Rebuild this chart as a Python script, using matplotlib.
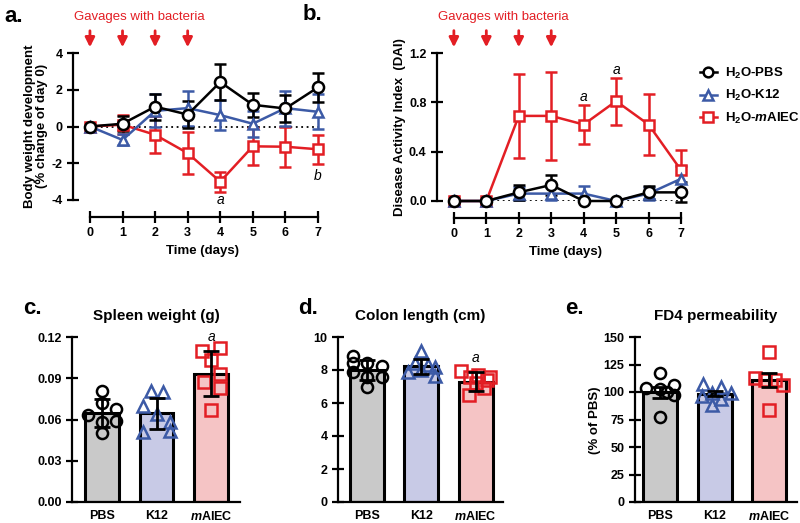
import numpy as np
import matplotlib.pyplot as plt
from matplotlib.lines import Line2D

plt.rcParams['font.family'] = ['Liberation Sans', 'DejaVu Sans']
plt.rcParams['font.weight'] = 'bold'
plt.rcParams['mathtext.fontset'] = 'custom'
plt.rcParams['mathtext.rm'] = 'Liberation Sans:bold'
plt.rcParams['mathtext.bf'] = 'Liberation Sans:bold'
plt.rcParams['mathtext.it'] = 'Liberation Sans:italic:bold'

# ---- data ----
days = [0, 1, 2, 3, 4, 5, 6, 7]

# a. body weight (% change of day 0)
bw_pbs = [0, 0.15, 1.08, 0.65, 2.42, 1.18, 0.98, 2.13]
bw_pbs_err = [0, 0.4, 0.7, 0.75, 1.0, 0.65, 0.75, 0.8]
bw_k12 = [0, -0.73, 0.85, 1.0, 0.62, 0.15, 1.0, 0.8]
bw_k12_err = [0, 0.3, 0.9, 0.95, 0.8, 0.7, 0.95, 0.95]
bw_aiec = [0, 0.1, -0.45, -1.45, -3.0, -1.08, -1.1, -1.24]
bw_aiec_err = [0, 0.5, 1.0, 1.15, 0.55, 1.0, 1.1, 0.8]

# b. disease activity index
dai_pbs = [0, 0, 0.07, 0.13, 0, 0, 0.07, 0.07]
dai_pbs_err = [0, 0, 0.06, 0.08, 0, 0, 0.05, 0.08]
dai_k12 = [0, 0, 0.06, 0.06, 0.06, 0, 0.06, 0.18]
dai_k12_err = [0, 0, 0.05, 0.05, 0.06, 0, 0.05, 0.1]
dai_aiec = [0, 0, 0.69, 0.69, 0.62, 0.81, 0.62, 0.25]
dai_aiec_err = [0, 0, 0.34, 0.36, 0.16, 0.19, 0.25, 0.16]

gavage_days = [0, 1, 2, 3]

groups = ['PBS', 'K12', r'$\mathit{m}$AIEC']
legend_labels = [r'H$_2$O-PBS', r'H$_2$O-K12', r'H$_2$O-$\mathit{m}$AIEC']

# c. spleen weight (g)
spleen_mean = [0.0647, 0.0645, 0.0933]
spleen_err = [0.010, 0.0113, 0.0163]
spleen_pts = [[0.081, 0.072, 0.068, 0.063, 0.059, 0.058, 0.050],
              [0.081, 0.080, 0.070, 0.064, 0.058, 0.051, 0.052],
              [0.110, 0.112, 0.103, 0.093, 0.087, 0.083, 0.067]]

# d. colon length (cm)
colon_mean = [7.98, 8.22, 7.3]
colon_err = [0.6, 0.45, 0.6]
colon_pts = [[8.85, 8.4, 8.4, 8.25, 7.9, 7.55, 7.6, 7.0],
             [9.15, 8.4, 8.3, 8.2, 7.85, 7.65, 8.0],
             [7.95, 7.7, 7.55, 7.55, 7.2, 6.9, 6.5, 7.4]]

# e. FD4 permeability (% of PBS)
fd4_mean = [100, 98.5, 111]
fd4_err = [5, 2.5, 6.5]
fd4_pts = [[117, 106, 104, 103, 100, 97, 77],
           [107, 105, 99, 99, 96, 94, 88],
           [136, 113, 111, 111, 106, 84]]

# horizontal spread of the dots inside each bar (layout only)
spleen_jit = [[0, 0, 0.25, -0.25, 0.25, 0, 0],
              [-0.11, 0.12, -0.25, 0, 0.25, -0.25, 0.25],
              [-0.16, 0.17, 0, 0.17, -0.13, 0.16, 0]]
colon_jit = [[-0.25, -0.25, 0, 0.27, -0.25, 0.27, 0, 0],
             [0, -0.12, 0.12, 0.25, -0.25, 0.25, 0],
             [-0.27, 0.05, -0.1, 0.27, 0, 0.15, -0.12, 0.2]]
fd4_jit = [[0, 0.25, -0.25, 0, 0.12, 0.25, 0],
           [-0.22, 0.12, -0.05, 0.3, -0.24, 0.12, -0.05],
           [0, -0.26, -0.08, 0.1, 0.26, 0]]

RED = '#e31e24'
BLUE = '#3c5aa6'
BLACK = 'black'
line_colors = [BLACK, BLUE, RED]
markers = ['o', '^', 's']
bar_fill = ['#c9c9c9', '#c8cae6', '#f5c4c5']

W, H = 800, 523
fig = plt.figure(figsize=(W / 100, H / 100), dpi=100)


def rect(l, t, r, b):
    return [l / W, 1 - b / H, (r - l) / W, (b - t) / H]


def style_axes(ax):
    for s in ['top', 'right']:
        ax.spines[s].set_visible(False)
    for s in ['left', 'bottom']:
        ax.spines[s].set_linewidth(1.6)
    ax.tick_params(width=1.6, labelsize=9)
    for lab in ax.get_xticklabels() + ax.get_yticklabels():
        lab.set_fontweight('bold')


def time_panel(ax, series, ylim, yticks, yfmt, offset):
    ax.set_xlim(-0.52, 7.4)
    ax.set_ylim(*ylim)
    ax.hlines(0, 0, 7, colors='black', linestyles=(0, (1, 2)), lw=1.3, zorder=1)
    for (vals, err), col, mk in zip(series[::-1], line_colors[::-1], markers[::-1]):
        ax.errorbar(days, vals, yerr=err, color=col, marker=mk, ms=7.5 if mk != 'o' else 8,
                    mfc='white', mec=col, mew=1.8, lw=1.8, elinewidth=1.8,
                    capsize=4, capthick=1.8, clip_on=False)
    ax.spines['bottom'].set_position(('outward', offset))
    ax.spines['bottom'].set_bounds(0, 7)
    ax.set_xticks(days)
    ax.set_yticks(yticks)
    ax.set_yticklabels([yfmt.format(v) for v in yticks])
    style_axes(ax)
    ax.tick_params(axis='both', direction='inout', length=8)
    ax.set_xlabel('Time (days)', fontsize=9.5, fontweight='bold', labelpad=4)
    for d in gavage_days:
        ax.annotate('', xy=(d, 1.02), xytext=(d, 1.17), xycoords=ax.get_xaxis_transform(),
                    arrowprops=dict(arrowstyle='-|>', color=RED, lw=2, mutation_scale=14),
                    annotation_clip=False)
    ax.text(1.53, 1.245, 'Gavages with bacteria', transform=ax.get_xaxis_transform(),
            color=RED, fontsize=9.5, fontweight='normal', ha='center', va='center')


# ---- a ----
ax_a = fig.add_axes(rect(73, 53, 331, 200))
time_panel(ax_a, [(bw_pbs, bw_pbs_err), (bw_k12, bw_k12_err), (bw_aiec, bw_aiec_err)],
           (-4, 4), [-4, -2, 0, 2, 4], '{:g}', 12)
ax_a.text(4, -4.0, 'a', style='italic', fontweight='normal', fontsize=10, ha='center', va='center')
ax_a.text(7, -2.7, 'b', style='italic', fontweight='normal', fontsize=10, ha='center', va='center')
fig.text(36 / W, 1 - 126 / H, 'Body weight development\n(% change of day 0)', rotation=90,
         ha='center', va='center', fontsize=9.5, fontweight='bold', linespacing=1.1)

# ---- b ----
ax_b = fig.add_axes(rect(437, 53, 694, 201))
time_panel(ax_b, [(dai_pbs, dai_pbs_err), (dai_k12, dai_k12_err), (dai_aiec, dai_aiec_err)],
           (0, 1.2), [0, 0.4, 0.8, 1.2], '{:.1f}', 12)
ax_b.text(4, 0.845, 'a', style='italic', fontweight='normal', fontsize=10, ha='center', va='center')
ax_b.text(5, 1.06, 'a', style='italic', fontweight='normal', fontsize=10, ha='center', va='center')
fig.text(400 / W, 1 - 127 / H, 'Disease Activity Index  (DAI)', rotation=90,
         ha='center', va='center', fontsize=9.5, fontweight='bold')

handles = [Line2D([], [], color=c, marker=m, ms=7, mfc='white', mec=c, mew=1.8, lw=1.8)
           for c, m in zip(line_colors, markers)]
fig.legend(handles, legend_labels, loc='upper left', bbox_to_anchor=(688 / W, 1 - 54 / H),
           frameon=False, handlelength=1.3, handletextpad=0.6, labelspacing=0.55,
           prop={'weight': 'bold', 'size': 9.5})


# ---- bar panels ----
def bar_panel(ax, means, errs, pts, jit, ylim, yticks, yfmt, xlim, title):
    x = np.arange(len(means))
    ax.bar(x, means, width=0.62, color=bar_fill, edgecolor='black', linewidth=2.2, zorder=1)
    for i in x:
        ax.plot(i + np.array(jit[i]), pts[i], linestyle='none', marker=markers[i], ms=8,
                mfc='none', mec=line_colors[i], mew=1.8, zorder=3, clip_on=False)
    ax.errorbar(x, means, yerr=errs, fmt='none', ecolor='black', elinewidth=2,
                capsize=6, capthick=2, zorder=4)
    ax.set_xlim(*xlim)
    ax.set_ylim(*ylim)
    ax.set_yticks(yticks)
    ax.set_yticklabels([yfmt.format(v) for v in yticks])
    ax.set_xticks(x)
    ax.set_xticklabels(groups)
    style_axes(ax)
    ax.tick_params(axis='y', direction='inout', length=8)
    ax.tick_params(axis='x', length=0, pad=6)
    ax.set_title(title, fontsize=11, fontweight='bold', pad=12)


ax_c = fig.add_axes(rect(72, 337, 240, 502))
bar_panel(ax_c, spleen_mean, spleen_err, spleen_pts, spleen_jit, (0, 0.12),
          [0, 0.03, 0.06, 0.09, 0.12], '{:.2f}', (-0.55, 2.53), 'Spleen weight (g)')
ax_c.text(2, 0.12, 'a', style='italic', fontweight='normal', fontsize=10, ha='center', va='center')

ax_d = fig.add_axes(rect(338, 337, 503, 502))
bar_panel(ax_d, colon_mean, colon_err, colon_pts, colon_jit, (0, 10),
          [0, 2, 4, 6, 8, 10], '{:g}', (-0.53, 2.5), 'Colon length (cm)')
ax_d.text(2, 8.75, 'a', style='italic', fontweight='normal', fontsize=10, ha='center', va='center')

ax_e = fig.add_axes(rect(635, 337, 797, 502))
bar_panel(ax_e, fd4_mean, fd4_err, fd4_pts, fd4_jit, (0, 150),
          [0, 25, 50, 75, 100, 125, 150], '{:g}', (-0.46, 2.51), 'FD4 permeability')
fig.text(595 / W, 1 - 420 / H, '(% of PBS)', rotation=90, ha='center', va='center',
         fontsize=9.5, fontweight='bold')

# panel letters
for lab, xp, yp in [('a.', 4, 16), ('b.', 303, 14), ('c.', 23, 309), ('d.', 298, 308), ('e.', 565, 309)]:
    fig.text(xp / W, 1 - yp / H, lab, fontsize=16, fontweight='bold', ha='left', va='center')

fig.savefig('out.png', dpi=100)
